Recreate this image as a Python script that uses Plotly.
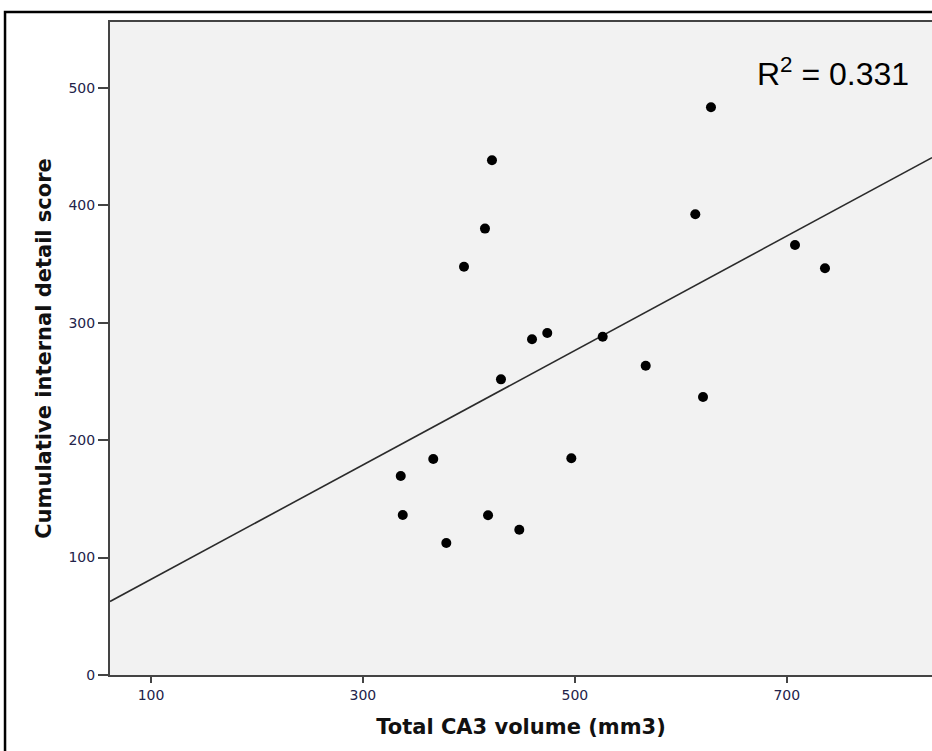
import numpy as np
import plotly.graph_objects as go

# Total CA3 volume (mm3) per participant
ca3_volume = [628.5, 421.8, 415.2, 395.4, 459.6, 474.0, 526.3, 430.3, 366.4, 496.7,
              335.7, 337.6, 418.1, 447.6, 378.7, 613.7, 707.8, 736.1, 566.9, 621.0]
# Cumulative internal detail score per participant
detail_score = [483.3, 438.2, 380.0, 347.6, 285.8, 291.2, 288.0, 251.7, 183.9, 184.5,
                169.4, 136.2, 136.0, 123.7, 112.4, 392.2, 366.1, 346.2, 263.3, 236.7]

x_ticks = [100, 300, 500, 700]
y_ticks = [0, 100, 200, 300, 400, 500]
x_range = [61.3, 837.1]
y_range = [0, 555.9]
r2_label = "R<sup>2</sup> = 0.331"

# least-squares fit line across the whole x range
slope, intercept = np.polyfit(ca3_volume, detail_score, 1)
fit_x = np.array(x_range)
fit_y = intercept + slope * fit_x

fig = go.Figure()
fig.add_trace(go.Scatter(
    x=fit_x, y=fit_y, mode="lines",
    line=dict(color="#2b2b2b", width=1.6),
    hoverinfo="skip", showlegend=False,
))
fig.add_trace(go.Scatter(
    x=ca3_volume, y=detail_score, mode="markers",
    marker=dict(color="black", size=10, line=dict(width=0)),
    showlegend=False,
))

tick_font = dict(family="DejaVu Sans", size=14, color="#23234a")
title_font = dict(family="DejaVu Sans", size=21, color="#111111")

fig.update_layout(
    width=932, height=751,
    margin=dict(l=110, r=0, t=22, b=76),
    paper_bgcolor="white",
    plot_bgcolor="#f2f2f2",
    xaxis=dict(
        range=x_range, tickvals=x_ticks, ticktext=[str(v) for v in x_ticks],
        showgrid=False, zeroline=False,
        showline=True, linecolor="#444444", linewidth=2, mirror=True,
        ticks="outside", ticklen=6, tickwidth=2, tickcolor="#444444",
        tickfont=tick_font,
        title=dict(text="<b>Total CA3 volume (mm3)</b>", font=title_font, standoff=18),
    ),
    yaxis=dict(
        range=y_range, tickvals=y_ticks, ticktext=[str(v) for v in y_ticks],
        showgrid=False, zeroline=False,
        showline=True, linecolor="#444444", linewidth=2,
        ticks="outside", ticklen=10, tickwidth=2, tickcolor="#444444",
        tickfont=tick_font,
        title=dict(text="<b>Cumulative internal detail score</b>", font=title_font, standoff=11),
    ),
    annotations=[dict(
        text=r2_label, xref="paper", yref="paper",
        x=0.974, y=0.889, xanchor="right", yanchor="bottom",
        showarrow=False,
        font=dict(family="Liberation Sans", size=32, color="black"),
    )],
    shapes=[dict(
        type="rect", xref="paper", yref="paper",
        x0=-0.1277, x1=1.05, y0=-0.3, y1=1.0153,
        line=dict(color="black", width=2.5), fillcolor="rgba(0,0,0,0)",
        layer="below",
    )],
)

fig.write_html("out.html")
